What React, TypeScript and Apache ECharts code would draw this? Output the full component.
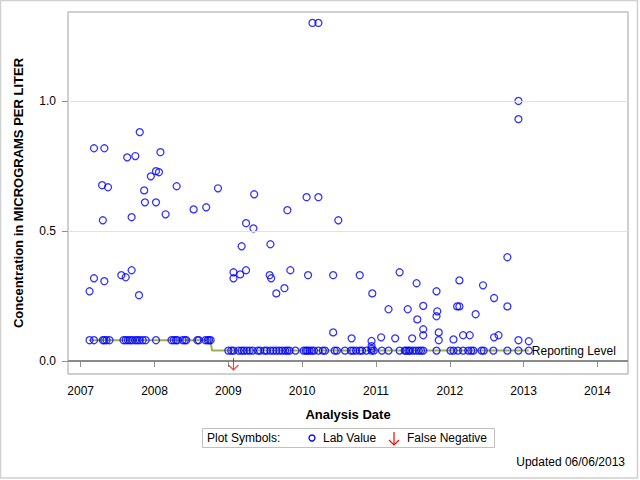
import React, { useEffect, useRef } from "react";
import * as echarts from "echarts";

const yearTicks = [2007, 2008, 2009, 2010, 2011, 2012, 2013, 2014];
const concentrationTicks = [0, 0.5, 1.0];
const gridLineValues = [0.5, 1.0];

// Lab values above the reporting level [decimal year, concentration]
const labValuePoints: [number, number][] = [
  [2010.14, 1.3], [2010.22, 1.3], [2012.93, 1.0], [2012.93, 0.93],
  [2007.8, 0.88], [2007.18, 0.818], [2007.32, 0.818], [2007.63, 0.783],
  [2007.74, 0.788], [2008.08, 0.803], [2007.95, 0.71], [2008.02, 0.73],
  [2008.06, 0.726], [2007.29, 0.676], [2007.37, 0.668], [2007.86, 0.656],
  [2008.3, 0.672], [2008.86, 0.664], [2009.35, 0.641], [2010.06, 0.63],
  [2010.22, 0.63], [2007.87, 0.61], [2008.02, 0.61], [2007.3, 0.541],
  [2007.69, 0.553], [2008.15, 0.564], [2008.53, 0.583], [2008.7, 0.591],
  [2009.8, 0.58], [2009.24, 0.53], [2009.34, 0.51], [2010.49, 0.541],
  [2009.18, 0.441], [2009.57, 0.449], [2012.78, 0.399], [2007.12, 0.268],
  [2007.18, 0.318], [2007.32, 0.307], [2007.55, 0.33], [2007.61, 0.322],
  [2007.69, 0.349], [2007.79, 0.253], [2009.07, 0.341], [2009.07, 0.318],
  [2009.16, 0.333], [2009.24, 0.349], [2009.56, 0.33], [2009.58, 0.318],
  [2009.65, 0.26], [2009.76, 0.28], [2009.84, 0.349], [2010.08, 0.33],
  [2010.42, 0.33], [2010.78, 0.33], [2010.95, 0.26], [2011.32, 0.341],
  [2011.55, 0.299], [2011.82, 0.268], [2012.13, 0.31], [2012.45, 0.291],
  [2012.6, 0.242], [2012.78, 0.21], [2012.35, 0.18], [2011.17, 0.199],
  [2011.43, 0.199], [2011.64, 0.212], [2011.56, 0.16], [2011.83, 0.191],
  [2011.82, 0.172], [2012.1, 0.21], [2012.13, 0.21], [2010.42, 0.11],
  [2010.67, 0.087], [2010.94, 0.077], [2010.94, 0.057], [2010.94, 0.047],
  [2011.07, 0.091], [2011.26, 0.087], [2011.49, 0.087], [2011.64, 0.122],
  [2011.64, 0.099], [2011.85, 0.11], [2011.85, 0.08], [2012.05, 0.083],
  [2012.18, 0.099], [2012.27, 0.099], [2012.6, 0.091], [2012.66, 0.099],
  [2012.93, 0.08], [2013.07, 0.076],
];

// Lab values reported at the reporting level 0.08
const labDatesAt008 = [
  2007.12, 2007.18, 2007.3, 2007.32, 2007.35, 2007.39, 2007.58, 2007.61,
  2007.64, 2007.67, 2007.7, 2007.74, 2007.77, 2007.8, 2007.84, 2007.88,
  2008.02, 2008.23, 2008.26, 2008.29, 2008.31, 2008.38, 2008.41, 2008.43,
  2008.58, 2008.6, 2008.69, 2008.72, 2008.74, 2008.76,
];
const labLevel008 = 0.08;

// Lab values reported at the reporting level 0.04
const labDatesAt004 = [
  2009.0, 2009.04, 2009.07, 2009.14, 2009.18, 2009.21, 2009.25, 2009.29,
  2009.33, 2009.4, 2009.43, 2009.49, 2009.52, 2009.57, 2009.61, 2009.65,
  2009.69, 2009.73, 2009.77, 2009.8, 2009.83, 2009.91, 2010.02, 2010.05,
  2010.07, 2010.1, 2010.13, 2010.16, 2010.22, 2010.28, 2010.31, 2010.44,
  2010.47, 2010.58, 2010.66, 2010.69, 2010.73, 2010.78, 2010.81, 2010.87,
  2010.94, 2010.97, 2011.08, 2011.17, 2011.32, 2011.39, 2011.41, 2011.44,
  2011.46, 2011.5, 2011.54, 2011.58, 2011.61, 2011.64, 2011.82, 2012.01,
  2012.05, 2012.11, 2012.18, 2012.25, 2012.29, 2012.32, 2012.43, 2012.46,
  2012.59, 2012.78, 2012.93, 2013.07,
];
const labLevel004 = 0.04;

const reportingLevelDates = [2007.11, 2008.755, 2008.78, 2013.07];
const reportingLevelValues = [0.08, 0.08, 0.04, 0.04];

const falseNegativeDates = [2009.07];
const falseNegativeValues = [0];

const FONT = "'Liberation Sans', Arial, Helvetica, sans-serif";

export default function App() {
  const ref = useRef<HTMLDivElement>(null);

  useEffect(() => {
    if (!ref.current) return;
    const chart = echarts.init(ref.current, undefined, { renderer: "svg" });

    const labData: [number, number][] = [
      ...labValuePoints,
      ...labDatesAt008.map((d) => [d, labLevel008] as [number, number]),
      ...labDatesAt004.map((d) => [d, labLevel004] as [number, number]),
    ];
    const rlData = reportingLevelDates.map((d, i) => [d, reportingLevelValues[i]]);
    const fnData = falseNegativeDates.map((d, i) => [d, falseNegativeValues[i]]);

    chart.setOption({
      animation: false,
      backgroundColor: "#ffffff",
      textStyle: { fontFamily: FONT },
      grid: {
        left: 68,
        right: 12,
        top: 12,
        bottom: 106,
        show: true,
        borderColor: "#a0a0a0",
        borderWidth: 1,
        backgroundColor: "transparent",
      },
      xAxis: {
        type: "value",
        min: 2006.828,
        max: 2014.414,
        axisLine: { show: false },
        splitLine: { show: false },
        axisTick: {
          show: true,
          length: 6,
          lineStyle: { color: "#909090" },
          customValues: yearTicks,
        },
        axisLabel: {
          customValues: yearTicks,
          margin: 11,
          color: "#000",
          fontSize: 12,
          fontFamily: FONT,
          formatter: (v: number) => String(Math.round(v)),
        },
      },
      yAxis: {
        type: "value",
        min: -0.05,
        max: 1.342,
        axisLine: { show: false },
        splitLine: { show: false },
        axisTick: {
          show: true,
          length: 6,
          lineStyle: { color: "#909090" },
          customValues: concentrationTicks,
        },
        axisLabel: {
          customValues: concentrationTicks,
          margin: 12,
          color: "#000",
          fontSize: 12,
          fontFamily: FONT,
          formatter: (v: number) => v.toFixed(1),
        },
      },
      series: [
        {
          type: "line",
          data: [],
          z: 1,
          silent: true,
          markLine: {
            silent: true,
            symbol: "none",
            label: { show: false },
            lineStyle: { color: "#e2e2e2", width: 1, type: "solid" },
            data: gridLineValues.map((v) => ({ yAxis: v })),
          },
        },
        {
          type: "line",
          data: [],
          z: 2,
          silent: true,
          markLine: {
            silent: true,
            symbol: "none",
            label: { show: false },
            lineStyle: { color: "#8a8a8a", width: 2, type: "solid" },
            data: [{ yAxis: 0 }],
          },
        },
        {
          name: "Reporting Level",
          type: "line",
          data: rlData,
          z: 3,
          showSymbol: false,
          lineStyle: { color: "#9cb050", width: 2 },
          endLabel: {
            show: true,
            formatter: "Reporting Level",
            distance: 3,
            color: "#000",
            fontSize: 12,
            fontFamily: FONT,
          },
        },
        {
          name: "Lab Value",
          type: "scatter",
          data: labData,
          z: 4,
          symbol: "circle",
          symbolSize: 7,
          itemStyle: { color: "transparent", borderColor: "#0000ff", borderWidth: 1.3 },
        },
        {
          name: "False Negative",
          type: "scatter",
          data: fnData,
          z: 5,
          symbol: "path://M5 0 L5 12 M0 7 L5 12 L10 7",
          symbolSize: [10, 12],
          symbolOffset: [0, 3],
          itemStyle: { color: "transparent", borderColor: "#ff0000", borderWidth: 1.2 },
        },
      ],
      graphic: [
        {
          type: "rect",
          shape: { x: 0.5, y: 0.5, width: 637, height: 477.5 },
          style: { fill: "none", stroke: "#d0d0d0", lineWidth: 1.5 },
          silent: true,
        },
        {
          type: "text",
          x: 18,
          y: 193,
          rotation: Math.PI / 2,
          style: {
            text: "Concentration in MICROGRAMS PER LITER",
            font: `bold 13px ${FONT}`,
            fill: "#000",
            textAlign: "center",
            textVerticalAlign: "middle",
          },
        },
        {
          type: "text",
          x: 348,
          y: 414,
          style: {
            text: "Analysis Date",
            font: `bold 13px ${FONT}`,
            fill: "#000",
            textAlign: "center",
            textVerticalAlign: "middle",
          },
        },
        {
          type: "rect",
          shape: { x: 202.5, y: 428.5, width: 292, height: 19 },
          style: { fill: "#fff", stroke: "#c0c0c0", lineWidth: 1 },
        },
        {
          type: "text",
          x: 207,
          y: 438,
          style: {
            text: "Plot Symbols:",
            font: `12px ${FONT}`,
            fill: "#000",
            textAlign: "left",
            textVerticalAlign: "middle",
          },
        },
        {
          type: "circle",
          shape: { cx: 312, cy: 438, r: 3 },
          style: { fill: "none", stroke: "#0000ff", lineWidth: 1.3 },
        },
        {
          type: "text",
          x: 323,
          y: 438,
          style: {
            text: "Lab Value",
            font: `12px ${FONT}`,
            fill: "#000",
            textAlign: "left",
            textVerticalAlign: "middle",
          },
        },
        {
          type: "line",
          shape: { x1: 394, y1: 432, x2: 394, y2: 445 },
          style: { stroke: "#ff0000", lineWidth: 1.2 },
        },
        {
          type: "polyline",
          shape: { points: [[389, 440], [394, 445], [399, 440]] },
          style: { stroke: "#ff0000", fill: "none", lineWidth: 1.2 },
        },
        {
          type: "text",
          x: 407,
          y: 438,
          style: {
            text: "False Negative",
            font: `12px ${FONT}`,
            fill: "#000",
            textAlign: "left",
            textVerticalAlign: "middle",
          },
        },
        {
          type: "text",
          x: 625,
          y: 462,
          style: {
            text: "Updated 06/06/2013",
            font: `12px ${FONT}`,
            fill: "#000",
            textAlign: "right",
            textVerticalAlign: "middle",
          },
        },
      ],
    });

    return () => chart.dispose();
  }, []);

  return (
    <div
      ref={ref}
      style={{ position: "fixed", left: 0, top: 0, width: 640, height: 480, background: "#fff" }}
    />
  );
}
